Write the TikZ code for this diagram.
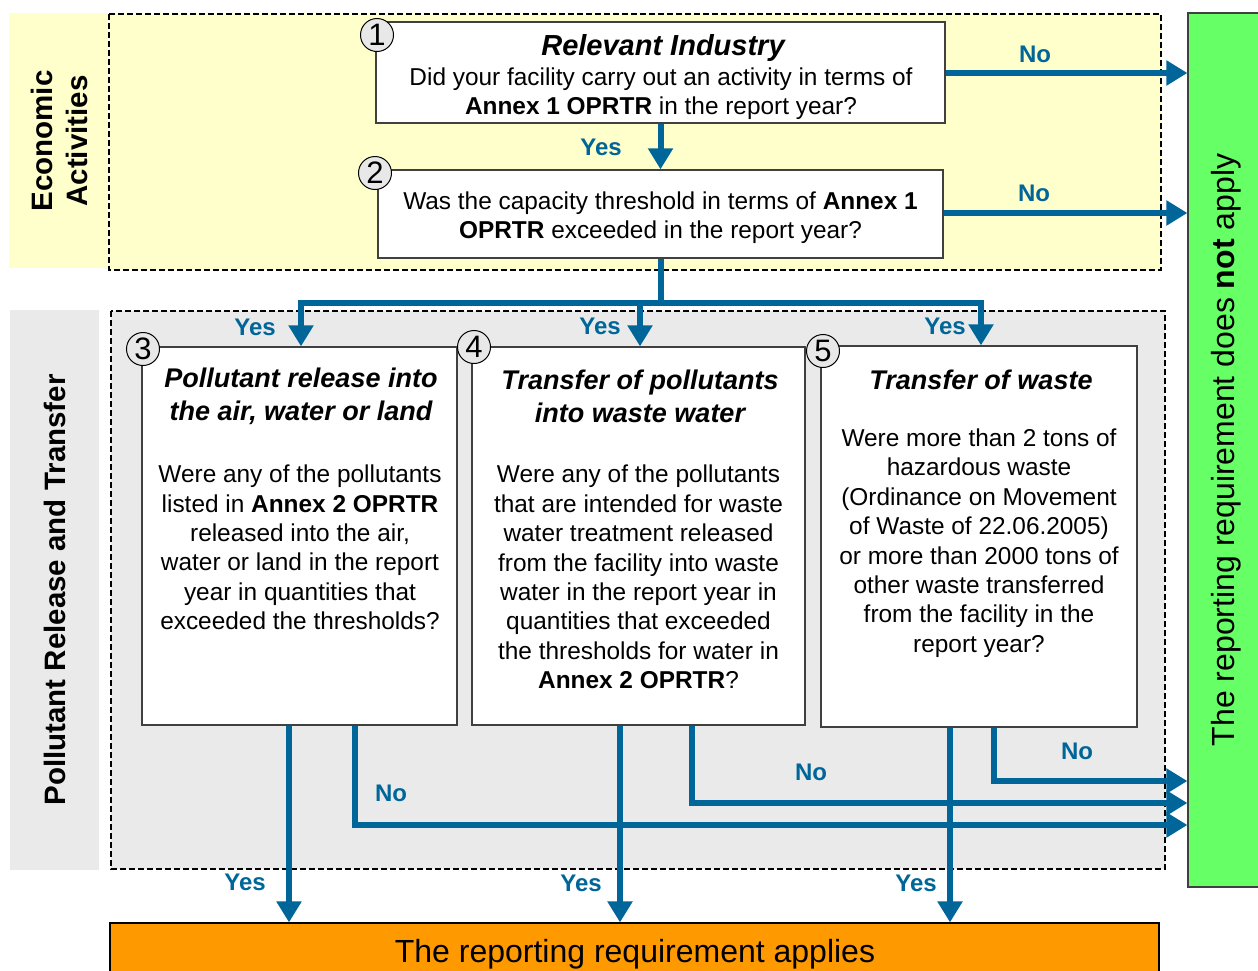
\documentclass[tikz,border=0pt]{standalone}
\usepackage{fontspec}
\setmainfont{Liberation Sans}
\usetikzlibrary{arrows.meta}
\definecolor{flowblue}{RGB}{0,102,153}
\definecolor{econyellow}{RGB}{255,255,204}
\definecolor{prtrgray}{RGB}{234,234,234}
\definecolor{notgreen}{RGB}{102,255,102}
\definecolor{appliesorange}{RGB}{255,153,0}
\definecolor{boxline}{RGB}{64,64,64}
\begin{document}
\begin{tikzpicture}[x=1pt,y=-1pt,
 qbox/.style={draw=boxline, line width=1.3pt, fill=white, inner sep=0pt},
 dashbox/.style={draw=black, line width=1.4pt, dash pattern=on 6pt off 3pt},
 arr/.style={draw=flowblue, line width=6pt, -{Triangle[width=24pt,length=21pt]}},
 lbl/.style={text=flowblue, font=\fontsize{24}{28}\selectfont\bfseries, inner sep=0pt},
 body/.style={font=\fontsize{24.4}{29.4}\selectfont, align=center, inner sep=0pt},
 ttl/.style={font=\fontsize{27}{33}\selectfont\bfseries\itshape, align=center, inner sep=0pt},
 num/.style={circle, draw=black, line width=1pt, fill=gray!18, minimum size=33pt, inner sep=0pt, font=\fontsize{31}{31}\selectfont},
 sect/.style={font=\fontsize{29.5}{35}\selectfont\bfseries, align=center, rotate=90, inner sep=0pt}]

\useasboundingbox (0,0) rectangle (1258,970);
\clip (0,0) rectangle (1258,970);
\fill[white] (0,0) rectangle (1258,970);

% regions
\fill[econyellow] (9,13) rectangle (108,268);
\filldraw[fill=econyellow, dashbox] (109,14) rectangle (1161,270);
\fill[prtrgray] (10,310) rectangle (99,870);
\filldraw[fill=prtrgray, dashbox] (111,311) rectangle (1165,869);

\node[sect] (econ) at (59.5,141) {Economic\\Activities};
\node[sect] (prt) at (55,590) {Pollutant Release and Transfer};

% outcome boxes
\node[draw=boxline, line width=1.2pt, fill=notgreen, minimum width=80pt, minimum height=874pt, inner sep=0pt] (green) at (1228,450) {};
\node[font=\fontsize{32}{36}\selectfont, rotate=90, inner sep=0pt] (greentxt) at (1226,450) {The reporting requirement does \textbf{not} apply};
\node[draw=black, line width=1.2pt, fill=appliesorange, minimum width=1049pt, minimum height=70pt, inner sep=0pt] (applies) at (634.5,958) {};
\node[font=\fontsize{32}{36}\selectfont, inner sep=0pt] (appliestxt) at (635,954) {The reporting requirement applies};

% question boxes
\node[qbox, minimum width=569pt, minimum height=101pt] (b1) at (660.5,72.5) {};
\node[qbox, minimum width=565pt, minimum height=88pt] (b2) at (660.5,214) {};
\node[qbox, minimum width=315pt, minimum height=378pt] (b3) at (299.5,536) {};
\node[qbox, minimum width=333pt, minimum height=378pt] (b4) at (638.5,536) {};
\node[qbox, minimum width=316pt, minimum height=381pt] (b5) at (979,536.5) {};

% texts
\node[ttl, font=\fontsize{29}{33}\selectfont\bfseries\itshape] (t1) at (663,48) {Relevant Industry};
\node[body] (x1) at (661,93.5) {Did your facility carry out an activity in terms of\\\textbf{Annex 1 OPRTR} in the report year?};
\node[body] (x2) at (660.5,217.5) {Was the capacity threshold in terms of \textbf{Annex 1}\\\textbf{OPRTR} exceeded in the report year?};
\node[ttl] (t3) at (301,396.5) {Pollutant release into\\the air, water or land};
\node[body] (x3) at (300,547.5) {Were any of the pollutants\\listed in \textbf{Annex 2 OPRTR}\\released into the air,\\water or land in the report\\year in quantities that\\exceeded the thresholds?};
\node[ttl] (t4) at (640,396.5) {Transfer of pollutants\\into waste water};
\node[body] (x4) at (638.5,577) {Were any of the pollutants\\that are intended for waste\\water treatment released\\from the facility into waste\\water in the report year in\\quantities that exceeded\\the thresholds for water in\\\textbf{Annex 2 OPRTR}?};
\node[ttl] (t5) at (981,380) {Transfer of waste};
\node[body] (x5) at (979,543) {Were more than 2 tons of\\hazardous waste\\(Ordinance on Movement\\of Waste of 22.06.2005)\\or more than 2000 tons of\\other waste transferred\\from the facility in the\\report year?};

% connector levels
\coordinate (no1) at (0,73);
\coordinate (no2) at (0,213);
\coordinate (bar) at (0,303);
\coordinate (n3) at (0,825);
\coordinate (n4) at (0,803);
\coordinate (n5) at (0,781);

% connectors
\draw[arr] (b1.south) -- (b2.north);
\draw[arr] (b1.east |- no1) -- (green.west |- no1);
\draw[arr] (b2.east |- no2) -- (green.west |- no2);
\draw[arr] (b2.south) -- (b2.south |- bar) -| ([xshift=1.5pt]b3.north);
\draw[arr] (b2.south) -- (b2.south |- bar) -| ([xshift=1.5pt]b4.north);
\draw[arr] (b2.south) -- (b2.south |- bar) -| ([xshift=2pt]b5.north);

\draw[arr] ([xshift=55.5pt]b3.south) |- (green.west |- n3);
\draw[arr] ([xshift=53.5pt]b4.south) |- (green.west |- n4);
\draw[arr] ([xshift=15pt]b5.south) |- (green.west |- n5);
\draw[arr] ([xshift=-10.5pt]b3.south) -- ([xshift=-10.5pt]b3.south |- applies.north);
\draw[arr] ([xshift=-18.5pt]b4.south) -- ([xshift=-18.5pt]b4.south |- applies.north);
\draw[arr] ([xshift=-29pt]b5.south) -- ([xshift=-29pt]b5.south |- applies.north);

% number circles
\node[num] (c1) at (377,35) {1};
\node[num] (c2) at (375,173) {2};
\node[num] (c3) at (143,349) {3};
\node[num] (c4) at (474,347) {4};
\node[num] (c5) at (823,351) {5};

% labels
\node[lbl] (l1) at (601,147) {Yes};
\node[lbl] (l2) at (1035,54) {No};
\node[lbl] (l3) at (1034,193) {No};
\node[lbl] (l4) at (255,327) {Yes};
\node[lbl] (l5) at (600,326) {Yes};
\node[lbl] (l6) at (945,326) {Yes};
\node[lbl] (l7) at (391,793) {No};
\node[lbl] (l8) at (811,772) {No};
\node[lbl] (l9) at (1077,751) {No};
\node[lbl] (l10) at (245,882) {Yes};
\node[lbl] (l11) at (581,883) {Yes};
\node[lbl] (l12) at (916,883) {Yes};
\end{tikzpicture}
\end{document}
